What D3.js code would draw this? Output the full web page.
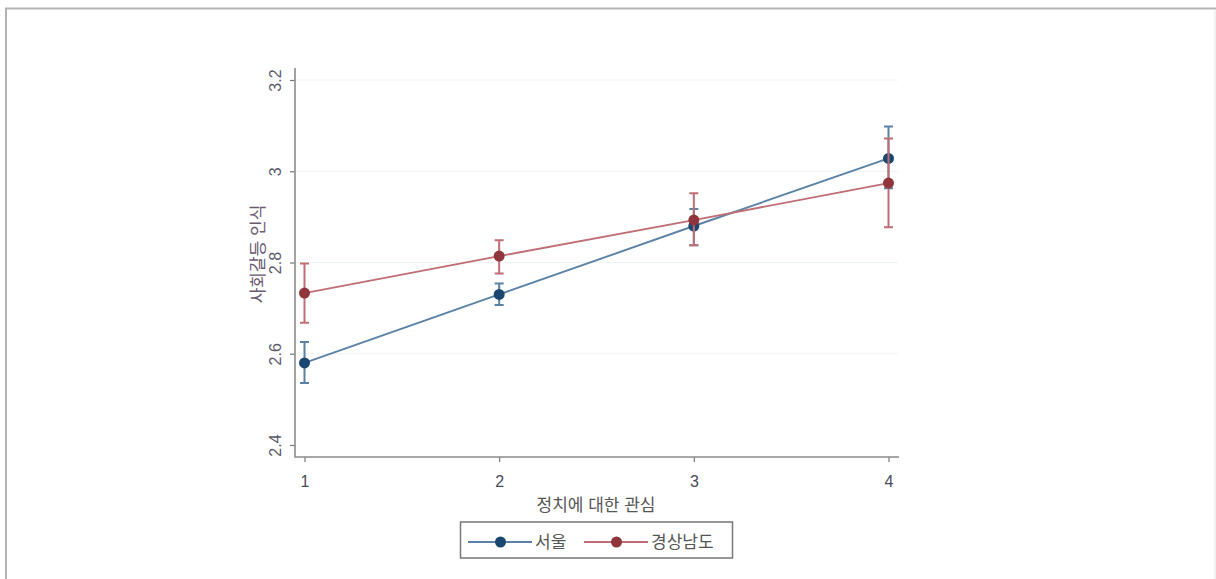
<!DOCTYPE html>
<html>
<head>
<meta charset="utf-8">
<script src="https://cdn.jsdelivr.net/npm/d3@7"></script>
<style>
  body { margin: 0; background: #fff; }
  svg { display: block; font-family: "Liberation Sans", "Noto Sans CJK KR", sans-serif; }
</style>
</head>
<body>
<svg id="chart" width="1216" height="579"></svg>
<script>
    // data
    const interest = [1, 2, 3, 4];
    const seoul = [2.580, 2.730, 2.880, 3.028];
    const seoul_lo = [2.536, 2.707, 2.838, 2.963];
    const seoul_hi = [2.626, 2.754, 2.917, 3.098];
    const gyeongnam = [2.733, 2.814, 2.893, 2.974];
    const gyeongnam_lo = [2.668, 2.776, 2.838, 2.877];
    const gyeongnam_hi = [2.798, 2.849, 2.952, 3.072];
    const yTicks = [2.4, 2.6, 2.8, 3, 3.2];
    const seriesNames = ["서울", "경상남도"];

    const svg = d3.select("#chart");

    // outer frame of the screenshot
    svg.append("path")
      .attr("d", "M6,579 V8.5 H1216")
      .attr("fill", "none")
      .attr("stroke", "#b4b4b4")
      .attr("stroke-width", 2);
    svg.append("line")
      .attr("x1", 1215).attr("x2", 1215).attr("y1", 9).attr("y2", 579)
      .attr("stroke", "#e4e4e4");

    const x = d3.scaleLinear().domain([1, 4]).range([304.5, 888.5]);
    const y = d3.scaleLinear().domain([2.4, 3.2]).range([445, 80]);

    const plotLeft = 295, plotRight = 899, plotTop = 68, plotBottom = 457;

    // gridlines
    svg.append("g")
      .selectAll("line")
      .data(yTicks.filter(d => d > 2.4))
      .join("line")
      .attr("x1", plotLeft).attr("x2", plotRight - 1)
      .attr("y1", d => y(d)).attr("y2", d => y(d))
      .attr("stroke", "#edf4f5")
      .attr("stroke-width", 1);

    // y axis
    const yAxis = svg.append("g")
      .attr("transform", "translate(" + plotLeft + ",0)")
      .call(d3.axisLeft(y).tickValues(yTicks).tickSize(5).tickFormat(d3.format("")));
    yAxis.select(".domain").remove();
    yAxis.selectAll(".tick line").attr("stroke", "#777").attr("stroke-width", 1.2);
    yAxis.selectAll(".tick text")
      .attr("x", null).attr("y", null).attr("dy", null)
      .attr("transform", "translate(-14,0) rotate(-90)")
      .style("text-anchor", "middle")
      .attr("fill", "#5a5a6a")
      .style("font-size", "16px");

    // x axis
    const xAxis = svg.append("g")
      .attr("transform", "translate(0," + plotBottom + ")")
      .call(d3.axisBottom(x).tickValues(interest).tickSize(5).tickPadding(14).tickFormat(d3.format("d")));
    xAxis.select(".domain").remove();
    xAxis.selectAll(".tick line").attr("stroke", "#777").attr("stroke-width", 1.2);
    xAxis.selectAll(".tick text")
      .attr("fill", "#4a4a5a")
      .style("font-size", "16px");

    // axis lines
    svg.append("path")
      .attr("d", "M" + plotLeft + "," + plotTop + " V" + plotBottom + " H" + plotRight)
      .attr("fill", "none")
      .attr("stroke", "#8c8c8c")
      .attr("stroke-width", 1.6);

    // axis titles
    svg.append("text")
      .attr("transform", "translate(264,254) rotate(-90)")
      .style("text-anchor", "middle")
      .style("font-size", "17px")
      .attr("fill", "#6a5a72")
      .text("사회갈등 인식");

    svg.append("text")
      .attr("x", 596)
      .attr("y", 511)
      .style("text-anchor", "middle")
      .style("font-size", "17px")
      .attr("fill", "#555")
      .text("정치에 대한 관심");

    const series = [
      { name: seriesNames[0], mean: seoul, lo: seoul_lo, hi: seoul_hi, line: "#5b82a6", dot: "#1a476f" },
      { name: seriesNames[1], mean: gyeongnam, lo: gyeongnam_lo, hi: gyeongnam_hi, line: "#bf6e74", dot: "#90353b" }
    ];

    const line = d3.line()
      .x(function (d) { return x(d.x); })
      .y(function (d) { return y(d.v); });

    series.forEach(function (s) {
      const pts = interest.map(function (k, i) {
        return { x: k, v: s.mean[i], lo: s.lo[i], hi: s.hi[i] };
      });
      const g = svg.append("g");

      // error bars
      g.selectAll(".eb")
        .data(pts)
        .join("path")
        .attr("d", d => "M" + x(d.x) + "," + y(d.lo) + " V" + y(d.hi) +
          " M" + (x(d.x) - 4.5) + "," + y(d.lo) + " h9" +
          " M" + (x(d.x) - 4.5) + "," + y(d.hi) + " h9")
        .attr("fill", "none")
        .attr("stroke", s.line)
        .attr("stroke-width", 2);

      g.append("path")
        .datum(pts)
        .attr("fill", "none")
        .attr("stroke", s.line)
        .attr("stroke-width", 1.9)
        .attr("d", line);

      g.selectAll("circle")
        .data(pts)
        .join("circle")
        .attr("cx", d => x(d.x))
        .attr("cy", d => y(d.v))
        .attr("r", 5.5)
        .attr("fill", s.dot);
    });

    // legend
    const legend = svg.append("g").attr("class", "legend");
    legend.append("rect")
      .attr("x", 460.5).attr("y", 522)
      .attr("width", 272).attr("height", 36)
      .attr("fill", "#fff")
      .attr("stroke", "#777")
      .attr("stroke-width", 1.5);

    const legX = [468, 584];
    series.forEach(function (s, i) {
      const lx = legX[i];
      legend.append("line")
        .attr("x1", lx).attr("x2", lx + 64)
        .attr("y1", 542).attr("y2", 542)
        .attr("stroke", s.line)
        .attr("stroke-width", 2);
      legend.append("circle")
        .attr("cx", lx + 32.5).attr("cy", 542).attr("r", 5.5)
        .attr("fill", s.dot);
      legend.append("text")
        .attr("x", lx + 67)
        .attr("y", 548)
        .style("font-size", "17px")
        .attr("fill", "#555")
        .text(s.name);
    });
</script>
</body>
</html>
